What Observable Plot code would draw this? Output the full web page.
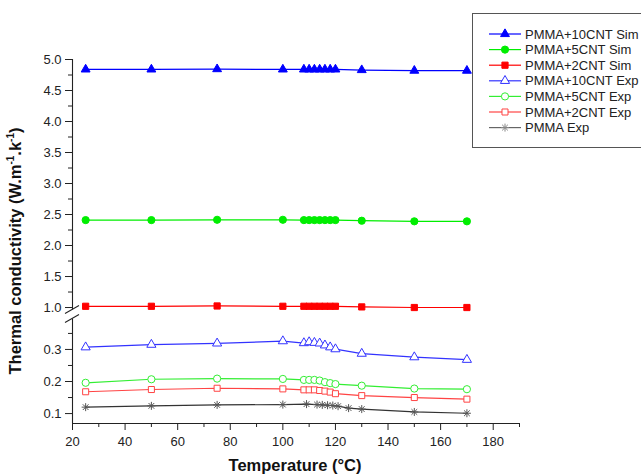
<!DOCTYPE html>
<html><head><meta charset="utf-8">
<script src="https://cdn.jsdelivr.net/npm/d3@7"></script>
<script src="https://cdn.jsdelivr.net/npm/@observablehq/plot@0.6"></script>
<style>body{margin:0;background:#fff;} #chart{position:relative;width:641px;height:475px;overflow:hidden}</style>
</head><body><div id="chart"></div>
<script>
// ---- data ----
const tempMain = [25, 50, 75, 100, 108, 110, 112, 114, 116, 118, 120, 130, 150, 170];
const tempPMMA = [25, 50, 75, 100, 109, 113, 115, 117, 119, 121, 125, 130, 150, 170];
const sim10 = [4.84, 4.84, 4.845, 4.84, 4.84, 4.84, 4.84, 4.84, 4.84, 4.84, 4.84, 4.83, 4.82, 4.82];
const sim5  = [2.41, 2.41, 2.415, 2.415, 2.41, 2.41, 2.41, 2.41, 2.41, 2.41, 2.41, 2.40, 2.39, 2.39];
const sim2  = [1.02, 1.02, 1.025, 1.02, 1.02, 1.02, 1.02, 1.02, 1.02, 1.02, 1.02, 1.01, 1.0, 1.0];
const exp10 = [0.307, 0.315, 0.319, 0.326, 0.320, 0.323, 0.321, 0.319, 0.313, 0.307, 0.301, 0.287, 0.276, 0.268];
const exp5  = [0.196, 0.207, 0.209, 0.208, 0.205, 0.205, 0.205, 0.203, 0.198, 0.195, 0.192, 0.187, 0.178, 0.176];
const exp2  = [0.168, 0.175, 0.179, 0.177, 0.174, 0.174, 0.174, 0.172, 0.170, 0.167, 0.162, 0.156, 0.150, 0.145];
const expPMMA = [0.120, 0.124, 0.127, 0.128, 0.1295, 0.128, 0.127, 0.126, 0.125, 0.123, 0.117, 0.114, 0.105, 0.101];
const seriesNames = ["PMMA+10CNT Sim", "PMMA+5CNT Sim", "PMMA+2CNT Sim", "PMMA+10CNT Exp", "PMMA+5CNT Exp", "PMMA+2CNT Exp", "PMMA Exp"];
const xMajor = [20, 40, 60, 80, 100, 120, 140, 160, 180];
const xMinor = [30, 50, 70, 90, 110, 130, 150, 170, 190];
const yMajor = [0.1, 0.2, 0.3, 1.0, 1.5, 2.0, 2.5, 3.0, 3.5, 4.0, 4.5, 5.0];
const yMinor = [0.15, 0.25, 0.35, 1.25, 1.75, 2.25, 2.75, 3.25, 3.75, 4.25, 4.75];
const xTitle = "Temperature (°C)";

// ---- styles / layout ----
const styles = [
  {temps: tempMain, vals: sim10, color: "#0000ff", symbol: "triangle", r: 3.3, fill: "#0000ff"},
  {temps: tempMain, vals: sim5, color: "#00ee00", symbol: "circle", r: 3.6, fill: "#00ee00"},
  {temps: tempMain, vals: sim2, color: "#ff0000", symbol: "square", r: 3.5, fill: "#ff0000"},
  {temps: tempMain, vals: exp10, color: "#3333ff", symbol: "triangle", r: 3.4, fill: "white"},
  {temps: tempMain, vals: exp5, color: "#33ee33", symbol: "circle", r: 3.6, fill: "white"},
  {temps: tempMain, vals: exp2, color: "#ff4444", symbol: "square", r: 3.4, fill: "white"},
  {temps: tempPMMA, vals: expPMMA, color: "#333333", symbol: "star", r: 2.7, fill: "none"}
];
const yDomain = [0.069, 0.395, 0.96, 5.0];
const yRange = [423, 318.5, 309.5, 59];
const X0 = 72, X1 = 519;
const FONT = '"Liberation Sans", Arial, sans-serif';

const marks = [];
const ySegs = [{y1: yDomain[0], y2: yDomain[1]}, {y1: yDomain[2], y2: yDomain[3]}];
marks.push(Plot.ruleX(ySegs, {x: () => 20, y1: "y1", y2: "y2", stroke: "#222", strokeWidth: 1.1}));
marks.push(Plot.ruleY([yDomain[0]], {x1: 20, x2: 190, stroke: "#222", strokeWidth: 1.1}));
marks.push(Plot.axisY(yMajor, {tickSize: 7, tickPadding: 4, tickFormat: d3.format(".1f"), label: null, stroke: "#222", fill: "#222"}));
marks.push(Plot.axisY(yMinor, {tickSize: 4, text: null, label: null, stroke: "#222"}));
marks.push(Plot.axisX(xMajor, {tickSize: 7, tickPadding: 6, tickFormat: d => String(d), label: null, stroke: "#222", fill: "#222"}));
marks.push(Plot.axisX(xMinor, {tickSize: 4, text: null, label: null, stroke: "#222"}));

styles.forEach((s) => {
  const data = s.temps.map((t, i) => ({t, v: s.vals[i]}));
  marks.push(Plot.line(data, {x: "t", y: "v", stroke: s.color, strokeWidth: 1.2}));
  if (s.symbol === "star") {
    marks.push(Plot.dot(data, {x: "t", y: "v", symbol: "plus", r: s.r, stroke: "#555", strokeWidth: 1}));
    marks.push(Plot.dot(data, {x: "t", y: "v", symbol: "times", r: s.r, stroke: "#555", strokeWidth: 1}));
  } else {
    marks.push(Plot.dot(data, {x: "t", y: "v", symbol: s.symbol, r: s.r, fill: s.fill, stroke: s.color, strokeWidth: 1}));
  }
});

const chart = Plot.plot({
  width: 641, height: 475,
  marginLeft: 72, marginRight: 122, marginTop: 59, marginBottom: 52,
  style: {fontFamily: FONT, fontSize: "13px", color: "#222", background: "#fff"},
  x: {domain: [20, 190], range: [X0, X1], label: null},
  y: {type: "linear", domain: yDomain, range: yRange, label: null},
  marks
});
document.getElementById("chart").appendChild(chart);

// ---- decorations: break marks, titles, legend ----
const svg = d3.select(chart);
const ys = chart.scale("y"), xs = chart.scale("x");
const xa = xs.apply(20);
[yDomain[1], yDomain[2]].forEach(v => {
  const yy = ys.apply(v);
  svg.append("line").attr("x1", xa - 7).attr("y1", yy + 4).attr("x2", xa + 7).attr("y2", yy - 4)
    .attr("stroke", "#222").attr("stroke-width", 1.1);
});

const yt = svg.append("text").attr("transform", "translate(21,251) rotate(-90)")
  .attr("text-anchor", "middle").attr("font-weight", "bold").attr("font-size", 16.5)
  .attr("font-family", FONT).attr("fill", "#111");
yt.append("tspan").text("Thermal conductivity (W.m");
yt.append("tspan").attr("font-size", 10).attr("dy", -7).text("-1");
yt.append("tspan").attr("dy", 7).text(".k");
yt.append("tspan").attr("font-size", 10).attr("dy", -7).text("-1");
yt.append("tspan").attr("dy", 7).text(")");

svg.append("text").attr("x", 295).attr("y", 471).attr("text-anchor", "middle")
  .attr("font-weight", "bold").attr("font-size", 16.5).attr("fill", "#111")
  .attr("font-family", FONT).text(xTitle);

const lg = svg.append("g");
lg.append("rect").attr("x", 472.5).attr("y", 13.5).attr("width", 200).attr("height", 134)
  .attr("fill", "white").attr("stroke", "#555").attr("stroke-width", 1);
const symMap = {triangle: d3.symbolTriangle, circle: d3.symbolCircle, square: d3.symbolSquare};
styles.forEach((s, i) => {
  const y = 34 + i * 15.6;
  lg.append("line").attr("x1", 489).attr("x2", 521).attr("y1", y).attr("y2", y)
    .attr("stroke", s.symbol === "star" ? "#666" : s.color).attr("stroke-width", 1.2);
  const area = Math.PI * s.r * s.r;
  if (s.symbol === "star") {
    [d3.symbolPlus, d3.symbolTimes].forEach(sym => {
      lg.append("path").attr("d", d3.symbol(sym, area)()).attr("transform", `translate(505,${y})`)
        .attr("fill", "none").attr("stroke", "#888").attr("stroke-width", 1);
    });
  } else {
    lg.append("path").attr("d", d3.symbol(symMap[s.symbol], area)()).attr("transform", `translate(505,${y})`)
      .attr("fill", s.fill).attr("stroke", s.color).attr("stroke-width", 1);
  }
  lg.append("text").attr("x", 525).attr("y", y + 4.5).attr("font-size", 13).attr("fill", "#222")
    .attr("text-anchor", "start").attr("font-family", FONT).text(seriesNames[i]);
});
</script>
</body></html>
